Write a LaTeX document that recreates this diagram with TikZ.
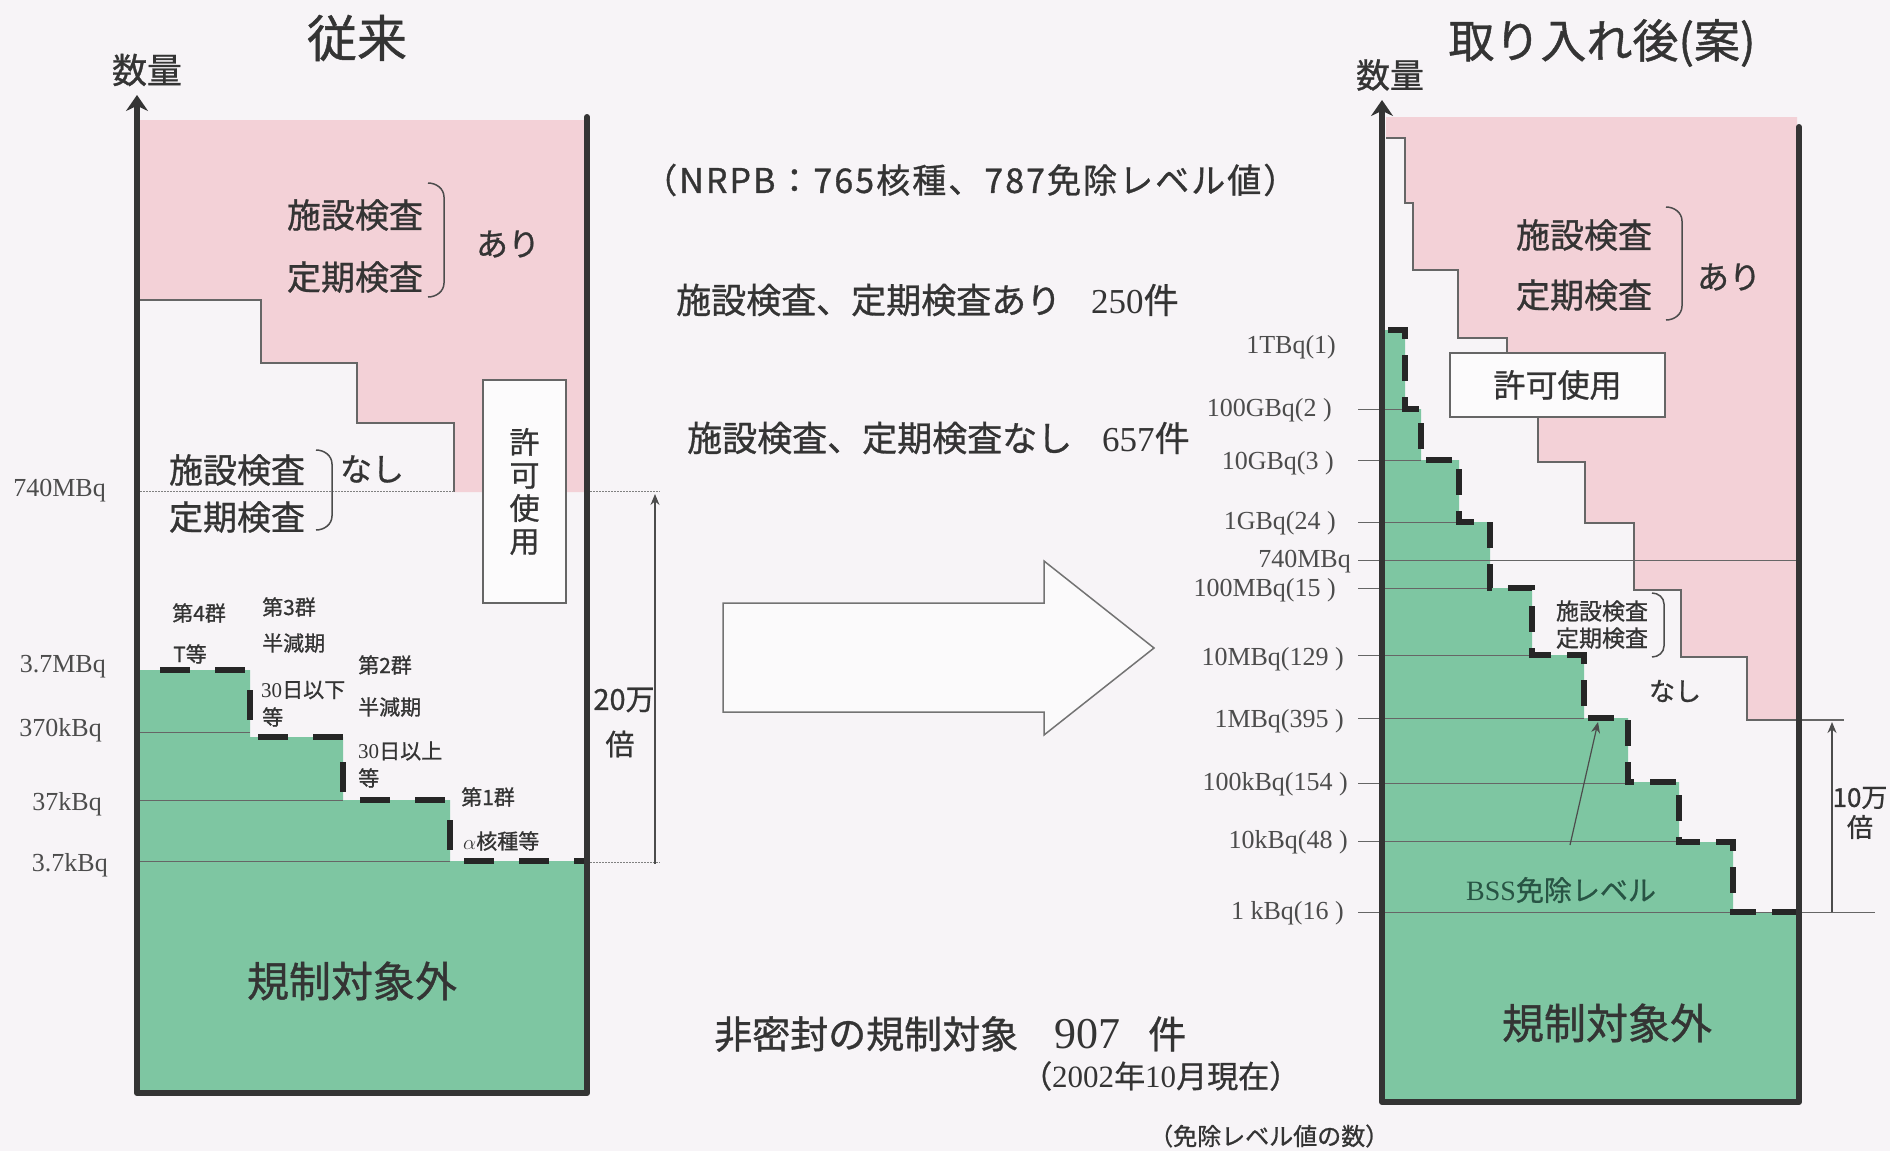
\documentclass[tikz,border=0pt]{standalone}
\usepackage{fontspec}
\setmainfont{Noto Sans CJK JP}[FakeBold=0.9]
\newfontfamily\tm{Liberation Serif}
\usetikzlibrary{arrows.meta}
\definecolor{pk}{RGB}{243,209,215}
\definecolor{gn}{RGB}{126,198,162}
\definecolor{bg}{RGB}{247,244,247}
\definecolor{ink}{RGB}{52,52,52}
\definecolor{bss}{RGB}{40,84,68}
\newcommand\fsz[1]{\fontsize{#1}{#1}\selectfont}

\begin{document}
\begin{tikzpicture}[x=1pt, y=-1pt,
                    every node/.style = {text=ink, inner sep=0pt},
                    wall/.style  = {draw=ink, line width=6pt, line cap=round, line join=round},
                    ax/.style    = {draw=ink, line width=6pt, -{Stealth[length=16pt, width=22pt]}},
                    stair/.style = {draw=black!85, line width=6.5pt, dash pattern=on 30pt off 25pt},
                    rstair/.style = {draw=black!85, line width=6pt, dash pattern=on 26pt off 16pt},
                    bound/.style = {draw=black!60, line width=1.4pt},
                    lvl/.style   = {draw=black!60, line width=1pt},
                    dotl/.style  = {draw=black!50, line width=1pt, dash pattern=on 1.5pt off 1.5pt},
                    lab/.style   = {font=\tm\fsz{26}, text=black!70, anchor=east},
                    brc/.style   = {draw=black!70, line width=1.5pt},
                    box/.style   = {draw=black!60, line width=1.5pt, fill=white!60!bg},
                    dim/.style   = {draw=black!70, line width=1.2pt, -{Stealth[length=11pt, width=9pt]}}]
                \fill[bg] (0,0) rectangle (1890,1151);
                \useasboundingbox (0,0) rectangle (1890,1151);

                \fill[pk] (140,120) -- (584,120) -- (584,492) -- (454,492) -- (454,423) -- (357,423) -- (357,363) -- (261,363) -- (261,300) -- (140,300) -- cycle;
                \draw[bound] (140,300) -- (261,300) -- (261,363) -- (357,363) -- (357,423) -- (454,423) -- (454,492);
                \fill[gn] (140,670) -- (250,670) -- (250,737) -- (343,737) -- (343,800) -- (450,800) -- (450,861) -- (584,861) -- (584,1090) -- (140,1090) -- cycle;
                \draw[lvl] (140,732) -- (250,732) (140,800) -- (343,800) (140,861) -- (450,861);
                \draw[dotl] (140,491) -- (454,491) (587,491) -- (660,491) (587,862) -- (660,862);
                \draw[stair] (160,670) -- (250,670) -- (250,737) -- (343,737) -- (343,800) -- (450,800) -- (450,861) -- (584,861);
                \draw[wall] (137,1093) -- (587,1093) -- (587,117);
                \coordinate (a0) at (137,1093);
                \coordinate (a1) at (137,95);
                \draw[ax] (a0) -- (a1);

                \node (tl) at (357,38)  {\fsz{50}従来};
                \node (ql) at (147,70)  {\fsz{35}数量};
                \node (f1) at (355,215) {\fsz{34}施設検査};
                \node (p1) at (355,277) {\fsz{34}定期検査};
                \draw[brc] (428,183) to[out=0,in=90] (444,197) -- (444,283) to[out=-90,in=0] (428,297);
                \node (y1) at (508,244) {\fsz{32}あり};
                \node (f2) at (237,470) {\fsz{34}施設検査};
                \node (p2) at (237,517) {\fsz{34}定期検査};
                \draw[brc] (316,450) to[out=0,in=90] (332,464) -- (332,516) to[out=-90,in=0] (316,530);
                \node (n1) at (372,469) {\fsz{32}なし};
                \node[box, minimum width=83pt, minimum height=223pt, align=center,
                      font=\fontsize{30}{33}\selectfont] (pl) at (524.5,491.5) {許\\可\\使\\用};

                \node[lab] (l1) at (106,491) {740MBq};
                \node[lab] (l2) at (106,667) {3.7MBq};
                \node[lab] (l3) at (102,730) {370kBq};
                \node[lab] (l4) at (102,804) {37kBq};
                \node[lab] (l5) at (108,865) {3.7kBq};

                \node[anchor=west, font=\fsz{21}] (g4) at (172,613) {第4群};
                \node[anchor=west, font=\fsz{21}] (g4b) at (173,654) {T等};
                \node[anchor=west, font=\fsz{21}] (g3) at (262,607) {第3群};
                \node[anchor=west, font=\fsz{21}] (g3b) at (262,643) {半減期};
                \node[anchor=west, font=\fsz{21}] (g3c) at (261,690) {{\tm 30}日以下};
                \node[anchor=west, font=\fsz{21}] (g3d) at (262,717) {等};
                \node[anchor=west, font=\fsz{21}] (g2) at (358,665) {第2群};
                \node[anchor=west, font=\fsz{21}] (g2b) at (358,707) {半減期};
                \node[anchor=west, font=\fsz{21}] (g2c) at (358,751) {{\tm 30}日以上};
                \node[anchor=west, font=\fsz{21}] (g2d) at (358,778) {等};
                \node[anchor=west, font=\fsz{21}] (g1) at (461,797) {第1群};
                \node[anchor=west, font=\fsz{21}] (g1b) at (463,841) {$\alpha$核種等};
                \node (ol) at (352,981) {\fsz{42}規制対象外};

                \coordinate (k0) at (655,864);
                \coordinate (k1) at (655,494);
                \draw[dim] (k0) -- (k1);
                \node (kt) at (624,700) {\fsz{29}20万};
                \node (kb) at (620,744) {\fsz{29}倍};

                \node[anchor=west, font=\fsz{34}\addfontfeatures{LetterSpace=6}] (nr) at (643,180) {（NRPB：765核種、787免除レベル値）};
                \node[anchor=west, font=\fsz{35}] (ar) at (676,300) {施設検査、定期検査あり\hspace{30pt}{\tm 250}件};
                \node[anchor=west, font=\fsz{35}] (na) at (687,438) {施設検査、定期検査なし\hspace{30pt}{\tm 657}件};
                \draw[draw=black!55, line width=1.5pt, fill=white!50!bg] (723,603) -- (1044,603) -- (1044,561) -- (1154,648) -- (1044,735) -- (1044,712) -- (723,712) -- cycle;
                \node[anchor=west, font=\fsz{38}] (fm) at (714,1034) {非密封の規制対象\hspace{36pt}{\tm\fsz{44}907}\hspace{28pt}件};
                \node[anchor=west, font=\fsz{31}] (dt) at (1021,1076) {（{\tm 2002}年{\tm 10}月現在）};
                \node[anchor=west, font=\fsz{24}] (nm) at (1149,1136) {（免除レベル値の数）};

                \fill[pk] (1386,117) -- (1797,117) -- (1797,720) -- (1747,720) -- (1747,657) -- (1681,657) -- (1681,590) -- (1634,590) -- (1634,523) -- (1585,523) -- (1585,462) -- (1538,462) -- (1538,380) -- (1507,380) -- (1507,338) -- (1458,338) -- (1458,270) -- (1413,270) -- (1413,203) -- (1405,203) -- (1405,138) -- (1386,138) -- cycle;
                \draw[bound] (1386,138) -- (1405,138) -- (1405,203) -- (1413,203) -- (1413,270) -- (1458,270) -- (1458,338) -- (1507,338) -- (1507,353);
                \draw[bound] (1538,417) -- (1538,462) -- (1585,462) -- (1585,523) -- (1634,523) -- (1634,590) -- (1681,590) -- (1681,657) -- (1747,657) -- (1747,720) -- (1844,720);
                \fill[gn] (1385,330) -- (1405,330) -- (1405,409) -- (1421,409) -- (1421,460) -- (1459,460) -- (1459,522) -- (1490,522) -- (1490,588) -- (1532,588) -- (1532,655) -- (1584,655) -- (1584,718) -- (1628,718) -- (1628,782) -- (1679,782) -- (1679,842) -- (1733,842) -- (1733,912) -- (1797,912) -- (1797,1099) -- (1385,1099) -- cycle;
                \foreach \yy/\xe in {409/1405, 460/1421, 522/1459, 560/1799, 588/1490, 655/1532, 718/1584, 783/1628, 841/1679, 912/1875}
                    \draw[lvl] (1358,\yy) -- (\xe,\yy);
                \draw[rstair] (1388,330) -- (1405,330) -- (1405,409) -- (1421,409) -- (1421,460) -- (1459,460) -- (1459,522) -- (1490,522) -- (1490,588) -- (1532,588) -- (1532,655) -- (1584,655) -- (1584,718) -- (1628,718) -- (1628,782) -- (1679,782) -- (1679,842) -- (1733,842) -- (1733,912) -- (1797,912);
                \draw[wall] (1382,1102) -- (1799,1102) -- (1799,127);
                \coordinate (c0) at (1382,1102);
                \coordinate (c1) at (1382,100);
                \draw[ax] (c0) -- (c1);

                \node (tr) at (1602,43) {\fsz{46}取り入れ後(案)};
                \node (qr) at (1390,75) {\fsz{34}数量};
                \node (f3) at (1584,235) {\fsz{34}施設検査};
                \node (p3) at (1584,295) {\fsz{34}定期検査};
                \draw[brc] (1666,207) to[out=0,in=90] (1682,221) -- (1682,306) to[out=-90,in=0] (1666,320);
                \node (y2) at (1729,277) {\fsz{32}あり};
                \node[box, minimum width=215pt, minimum height=64pt, font=\fsz{32}] (pr) at (1557.5,385) {許可使用};
                \node (f4) at (1602,611) {\fsz{23}施設検査};
                \node (p4) at (1602,638) {\fsz{23}定期検査};
                \draw[brc] (1652,593) to[out=0,in=90] (1664,604) -- (1664,646) to[out=-90,in=0] (1652,657);
                \node (n2) at (1675,691) {\fsz{26}なし};
                \node[text=bss] (bl) at (1561,890) {\fsz{28}{\tm BSS}免除レベル};
                \coordinate (b0) at (1570,845);
                \coordinate (b1) at (1598,722);
                \draw[dim] (b0) -- (b1);
                \node (or) at (1607,1023) {\fsz{42}規制対象外};

                \foreach \lx/\ly/\tx in {1336/347/{1TBq(1)}, 1332/410/{100GBq(2 )}, 1334/463/{10GBq(3 )}, 1336/523/{1GBq(24 )}, 1351/562/{740MBq}, 1336/590/{100MBq(15 )}, 1344/659/{10MBq(129 )}, 1344/721/{1MBq(395 )}, 1348/784/{100kBq(154 )}, 1348/842/{10kBq(48 )}, 1344/913/{1 kBq(16 )}}
                    \node[lab] at (\lx,\ly) {\tx};

                \coordinate (m0) at (1832,912);
                \coordinate (m1) at (1832,722);
                \draw[dim] (m0) -- (m1);
                \node (mt) at (1860,798) {\fsz{26}10万};
                \node (mb) at (1860,827) {\fsz{26}倍};
            \end{tikzpicture}
\end{document}
